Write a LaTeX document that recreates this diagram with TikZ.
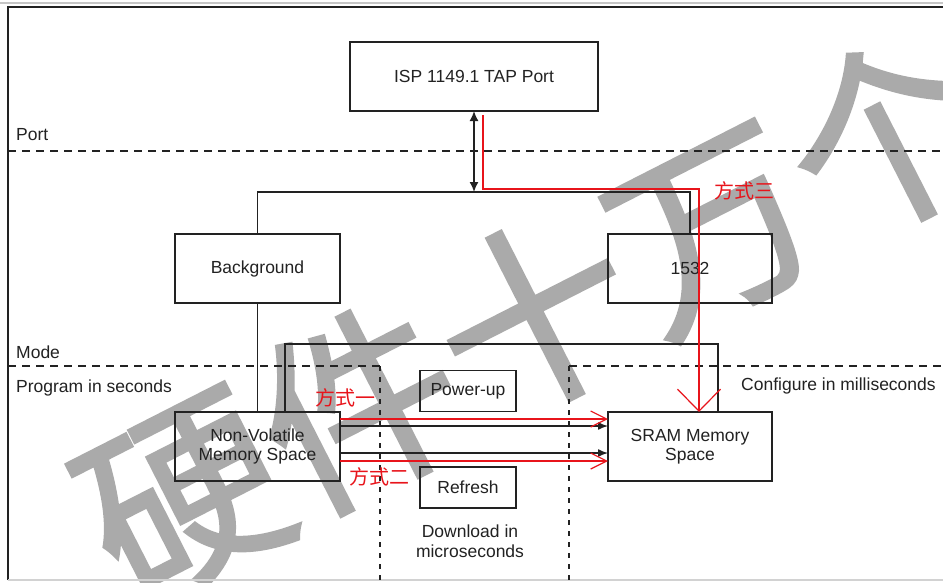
\documentclass[tikz,border=0pt]{standalone}
\usepackage{fontspec}
\setmainfont{Liberation Sans}
\newfontfamily\cjk{Noto Sans CJK SC}
\newfontfamily\cjkmark{Noto Sans CJK SC}[FakeBold=1.6]
\usetikzlibrary{arrows.meta,positioning}
\definecolor{ink}{HTML}{222222}
\definecolor{way}{HTML}{E8141B}
\definecolor{mark}{HTML}{AAAAAA}

\begin{document}
\begin{tikzpicture}[x=1pt, y=-1pt,
  blk/.style={draw=ink, line width=1.6pt, minimum width=165pt, minimum height=69pt,
              inner sep=0pt, outer sep=0pt, align=center, text=ink,
              font=\fontsize{17.5}{18.5}\selectfont},
  minibox/.style={blk, minimum width=96pt, minimum height=41pt},
  lbl/.style={inner sep=0pt, text=ink, align=center, font=\fontsize{17.5}{20}\selectfont},
  wayl/.style={inner sep=0pt, text=way, font=\cjk\fontsize{20}{20}\selectfont},
  wire/.style={draw=ink, line width=1.6pt},
  arr/.style={-{Latex[length=10pt,width=8pt]}, draw=ink, line width=1.4pt},
  dbl/.style={{Latex[length=10pt,width=9pt]}-{Latex[length=10pt,width=9pt]}, draw=ink, line width=1.6pt},
  wayarr/.style={-{Straight Barb[length=16pt,width=16pt]}, draw=way, line width=1.2pt},
  sep/.style={draw=ink, line width=1.4pt, dash pattern=on 8pt off 6pt},
  vsep/.style={draw=ink, line width=1.4pt, dash pattern=on 5pt off 6pt},
]
  \useasboundingbox (0,0) rectangle (943,582);
  \fill[white] (0,0) rectangle (943,582);
  \node[rotate=27, inner sep=0pt, color=mark, text=mark,
        font=\cjkmark\fontsize{198}{198}\selectfont] (wm) at (535,316) {硬件十万个};

  \draw[gray!45, line width=1.2pt] (0,3) -- (943,3);
  \draw[ink, line width=1.6pt] (8,580) -- (8,7) -- (943,7);
  \draw[gray!35, line width=1.2pt] (8,580) -- (943,580);

  \node[blk, minimum width=248pt] (isp) at (474,76.5) {ISP 1149.1 TAP Port};
  \node[blk] (bg) at (257.5,268.5) {Background};
  \node[blk, minimum width=164pt] (k1532) at (690,268.5) {1532};
  \node[blk] (nvm) at (257.5,446.5) {Non-Volatile\\Memory Space};
  \node[blk, minimum width=164pt] (sram) at (690,446.5) {SRAM Memory\\Space};
  \node[minibox] (pwr) at (468,391) {Power-up};
  \node[minibox] (rfr) at (468,487.5) {Refresh};
  \node[lbl] (dl) at (470,541) {Download in\\microseconds};

  \node[lbl, anchor=base west] (port) at (16,140) {Port};
  \node[lbl, anchor=base west] (mode) at (16,358) {Mode};
  \node[lbl, anchor=base west] (prog) at (16,392) {Program in seconds};
  \node[lbl, anchor=base west] (cfg) at (741,390) {Configure in milliseconds};

  \draw[sep] (8,151) -- (943,151);
  \draw[sep] (8,366) -- (380,366);
  \draw[sep] (569,366) -- (943,366);
  \draw[vsep] (380,366) -- (380,582);
  \draw[vsep] (569,366) -- (569,582);

  \coordinate (busL) at (257.5,192);
  \coordinate (busR) at (690,192);
  \coordinate (cfgL) at (285,344);
  \coordinate (cfgR) at (718,344);
  \draw[wire] (bg.north) -- (busL) -- (busR) -- (k1532.north);
  \draw[dbl] (isp.south) -- (isp.south |- busL);
  \draw[wire] (bg.south) -- (nvm.north);
  \draw[wire] (nvm.north -| cfgL) -- (cfgL) -- (cfgR) -- (sram.north -| cfgR);

  \draw[arr] ([yshift=20.5pt]nvm.east) -- ([yshift=20.5pt]sram.west);
  \draw[arr] ([yshift=-6.5pt]nvm.east) -- ([yshift=-6.5pt]sram.west);

  \coordinate (w3a) at (483,189);
  \coordinate (w3b) at (699,189);
  \draw[wayarr] ([yshift=27.5pt]nvm.east) -- ([yshift=27.5pt]sram.west);
  \draw[wayarr] ([yshift=-14.5pt]nvm.east) -- ([yshift=-14.5pt]sram.west);
  \draw[wayarr, -{Straight Barb[length=22pt,width=43pt]}]
    ([xshift=9pt,yshift=-4pt]isp.south) -- (w3a) -- (w3b) -- (sram.north -| w3b);

  \node[wayl] (way1) at (345,398) {方式一};
  \node[wayl] (way2) at (379,477) {方式二};
  \node[wayl] (way3) at (744,191) {方式三};
\end{tikzpicture}
\end{document}
